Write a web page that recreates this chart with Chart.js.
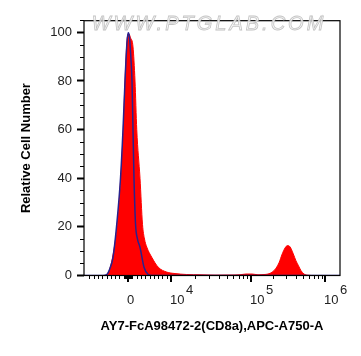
<!DOCTYPE html>
<html>
<head>
<meta charset="utf-8">
<script src="https://cdn.jsdelivr.net/npm/chart.js@4.4.1/dist/chart.umd.min.js"></script>
<style>
  html, body { margin: 0; padding: 0; background: #fff; }
  #wrap { width: 361px; height: 356px; position: relative; }
</style>
</head>
<body>
<div id="wrap"><canvas id="c" width="361" height="356"></canvas></div>
<script>
// ---- Data (x in display channels 0..1024 of the biexponential axis, y = relative cell number) ----
const sampleChannels = [64, 80, 91, 104, 117, 132, 147, 157, 164, 172, 179, 186, 196, 204, 211, 224, 234, 242, 251, 271, 297, 331, 364, 411, 464, 524, 584, 624, 648, 672, 696, 720, 736, 752, 768, 780, 793, 804, 814, 824, 837, 848, 857, 868, 880, 896, 924, 1024];
const sampleCounts   = [0, 0, 0.3, 3, 9, 20, 40, 60, 80, 96.5, 99.4, 97.8, 94, 80, 60, 40, 21, 15, 11.7, 7.5, 3.4, 1.4, 0.8, 0.4, 0.3, 0.15, 0.2, 0.3, 0.6, 0.6, 0.3, 0.4, 0.6, 1.3, 3, 5.2, 8.9, 11.3, 12.3, 11.8, 8.9, 6, 4.2, 2, 0.6, 0.1, 0, 0];
const controlChannels = [0, 76, 91, 104, 116, 130, 146, 156, 164, 172, 177, 182, 186, 192, 196, 200, 206, 214, 224, 240, 256, 272, 1024];
const controlCounts   = [0, 0, 0.4, 3, 7.5, 20, 40, 60, 80, 96, 99.8, 98, 92, 80, 60, 40, 21.4, 15, 11.6, 3.4, 0.5, 0, 0];

// ---- Axis tick definitions ----
const yMajorTicks = [0, 20, 40, 60, 80, 100];
const yMinorTicks = [5, 10, 15, 25, 30, 35, 45, 50, 55, 65, 70, 75, 85, 90, 95, 105];
const xMajorValues = [0, 1e4, 1e5, 1e6];
const xMajorLabels = [['0', ''], ['10', '4'], ['10', '5'], ['10', '6']];
const xMinorValues = [
  -9000, -8000, -7000, -6000, -5000, -4000, -3000, -2000, -1000,
  -900, -800, -700, -600, -500, -400, -300, -200, -100,
  100, 200, 300, 400, 500, 600, 700, 800, 900,
  1000, 2000, 3000, 4000, 5000, 6000, 7000, 8000, 9000,
  2e4, 3e4, 4e4, 5e4, 6e4, 7e4, 8e4, 9e4,
  2e5, 3e5, 4e5, 5e5, 6e5, 7e5, 8e5, 9e5
];

// biexponential display transform: fluorescence value -> display channel
function toChannel(v) {
  if (v <= 1e4) return 176 + v * (348 - 176) / 1e4;
  if (v <= 1e5) return 348 + Math.log10(v / 1e4) * 320;
  return 668 + Math.log10(v / 1e5) * 296;
}

const toPts = (xs, ys) => xs.map((x, i) => ({ x: x, y: ys[i] }));

const decor = {
  id: 'decor',
  afterDraw(chart) {
    const { ctx, chartArea: ca, scales: { x, y } } = chart;
    ctx.save();
    // frame
    ctx.strokeStyle = '#000';
    ctx.lineWidth = 1.2;
    ctx.strokeRect(ca.left, ca.top, ca.right - ca.left, ca.bottom - ca.top);
    // y minor ticks
    ctx.lineWidth = 1;
    ctx.beginPath();
    yMinorTicks.forEach(v => {
      const py = Math.round(y.getPixelForValue(v)) + 0.5;
      ctx.moveTo(ca.left - 4, py); ctx.lineTo(ca.left, py);
    });
    ctx.stroke();
    // x minor ticks
    ctx.beginPath();
    xMinorValues.forEach(v => {
      const px = Math.round(x.getPixelForValue(toChannel(v))) + 0.5;
      ctx.moveTo(px, ca.bottom); ctx.lineTo(px, ca.bottom + 3.5);
    });
    ctx.stroke();
    // x major ticks
    ctx.lineWidth = 2;
    ctx.beginPath();
    xMajorValues.forEach(v => {
      const px = Math.round(x.getPixelForValue(toChannel(v)));
      ctx.moveTo(px, ca.bottom); ctx.lineTo(px, ca.bottom + 6.5);
    });
    ctx.stroke();
    // x labels with superscripts
    ctx.fillStyle = '#222';
    ctx.textBaseline = 'alphabetic';
    ctx.textAlign = 'left';
    ctx.font = '13px "Liberation Sans", Arial, sans-serif';
    xMajorValues.forEach((v, i) => {
      const px = x.getPixelForValue(toChannel(v));
      const [base, exp] = xMajorLabels[i];
      const bx = px - 1;
      ctx.fillText(base, bx, 303.5);
      if (exp) {
        const w = ctx.measureText(base).width;
        ctx.fillText(exp, bx + w + 1.5, 293.5);
      }
    });
    // watermark
    ctx.font = 'italic 20px "Liberation Sans", Arial, sans-serif';
    ctx.textAlign = 'center';
    ctx.textBaseline = 'middle';
    try { ctx.letterSpacing = '3px'; } catch (e) {}
    ctx.fillStyle = 'rgba(246,246,246,0.85)';
    ctx.fillText('WWW.PTGLAB.COM', 209, 24);
    ctx.strokeStyle = 'rgba(190,190,190,0.9)';
    ctx.lineWidth = 0.8;
    ctx.strokeText('WWW.PTGLAB.COM', 209, 24);
    ctx.restore();
  }
};

new Chart(document.getElementById('c'), {
  type: 'line',
  data: {
    datasets: [
      {
        label: 'Control',
        data: toPts(controlChannels, controlCounts),
        borderColor: '#28228e',
        borderWidth: 1.5,
        fill: false,
        pointRadius: 0,
        cubicInterpolationMode: 'monotone',
        order: 0
      },
      {
        label: 'CD8a',
        data: toPts(sampleChannels, sampleCounts),
        borderColor: '#ff0000',
        backgroundColor: '#ff0000',
        borderWidth: 1,
        fill: 'origin',
        pointRadius: 0,
        cubicInterpolationMode: 'monotone',
        order: 1
      }
    ]
  },
  options: {
    responsive: false,
    animation: false,
    devicePixelRatio: 1,
    layout: { padding: { left: 0, right: 21, top: 20.7, bottom: 0 } },
    plugins: { legend: { display: false }, tooltip: { enabled: false } },
    scales: {
      x: {
        type: 'linear',
        min: 0,
        max: 1024,
        grid: { display: false },
        border: { display: false },
        ticks: { display: false },
        title: {
          display: true,
          text: 'AY7-FcA98472-2(CD8a),APC-A750-A',
          color: '#000',
          font: { family: '"Liberation Sans", Arial, sans-serif', size: 13, weight: 'bold' },
          padding: { top: 0, bottom: 21.5 }
        },
        afterFit(s) { s.height = 80.5; }
      },
      y: {
        type: 'linear',
        min: 0,
        max: 104.8,
        afterBuildTicks(s) { s.ticks = yMajorTicks.map(v => ({ value: v })); },
        grid: { display: true, drawOnChartArea: false, drawTicks: true, tickLength: 7, tickColor: '#000', tickWidth: 2 },
        border: { display: false },
        ticks: {
          color: '#222',
          padding: 5,
          font: { family: '"Liberation Sans", Arial, sans-serif', size: 13 },
          callback: v => String(v)
        },
        title: {
          display: true,
          text: 'Relative Cell Number',
          color: '#000',
          font: { family: '"Liberation Sans", Arial, sans-serif', size: 13, weight: 'bold' },
          padding: { top: 18.9, bottom: 0 }
        },
        afterFit(s) { s.width = 84; }
      }
    }
  },
  plugins: [decor]
});
</script>
</body>
</html>
